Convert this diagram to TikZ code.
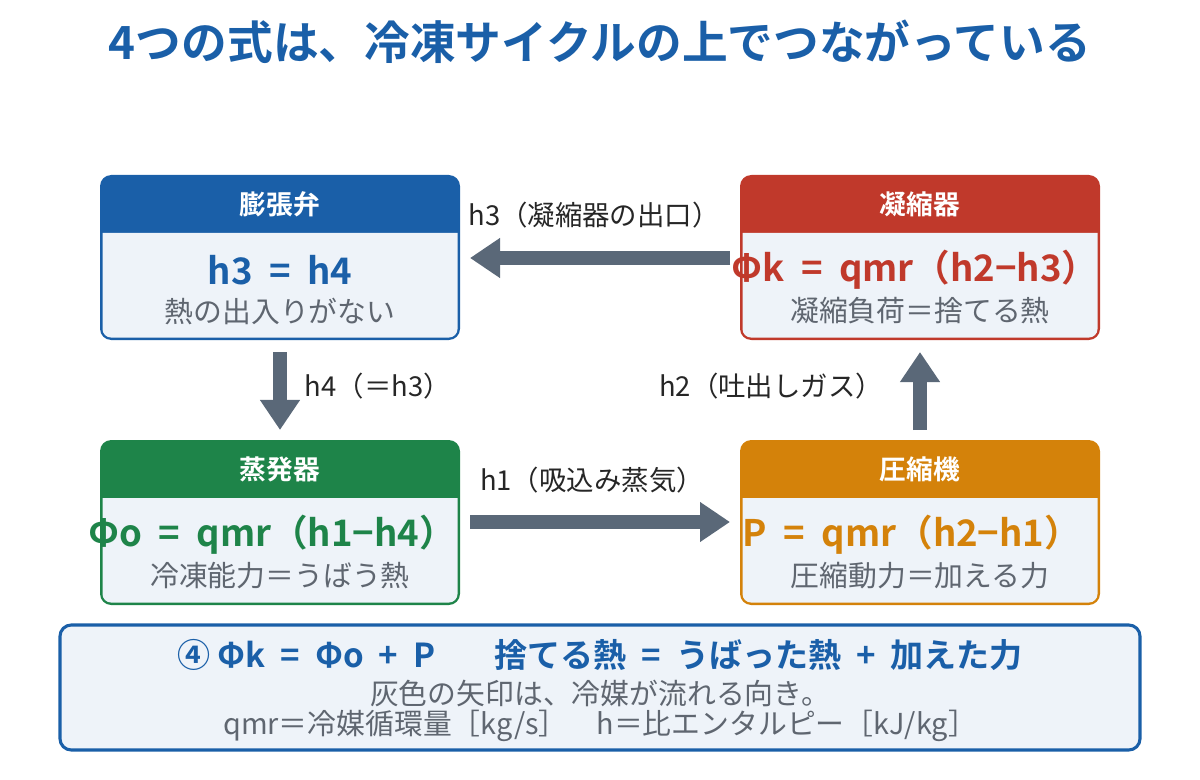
\documentclass[tikz,border=0pt]{standalone}
\usepackage{fontspec}
\setmainfont{Noto Sans CJK JP}[BoldFont={Noto Sans CJK JP Bold}]
\usetikzlibrary{arrows.meta}
\definecolor{cblue}{HTML}{1A5FA8}
\definecolor{cred}{HTML}{C0392B}
\definecolor{cgreen}{HTML}{1E8449}
\definecolor{corange}{HTML}{D4820A}
\definecolor{cbody}{HTML}{EEF3F9}
\definecolor{cgray}{HTML}{5A6878}
\definecolor{ctext}{HTML}{5F6670}
\newcommand{\eqs}[1]{\hspace{0.45em}#1\hspace{0.45em}}
\begin{document}
\begin{tikzpicture}[x=0.025cm,y=-0.025cm,
  htxt/.style={text=white,font=\bfseries\fontsize{19}{22}\selectfont},
  ftxt/.style={text=#1,font=\bfseries\fontsize{26}{30}\selectfont},
  stxt/.style={text=ctext,font=\fontsize{20.5}{24}\selectfont},
  ltxt/.style={text=black!85,font=\fontsize{19.5}{23}\selectfont},
  flow/.style={draw=cgray,line width=10pt,-{Triangle[length=0.75cm,width=0.95cm]}}]
\useasboundingbox (0,0) rectangle (1200,780);
\node (title) at (600,42) {\textcolor{cblue}{\bfseries\fontsize{32.5}{36}\selectfont 4つの式は、冷凍サイクルの上でつながっている}};
\foreach \x/\y/\c in {100/175/cblue,740/175/cred,100/440/cgreen,740/440/corange}{
  \fill[\c,rounded corners=8pt] (\x,\y) rectangle (\x+360,\y+165);
  \fill[cbody] (\x+2.5,\y+58) [rounded corners=6pt] -- (\x+2.5,\y+162.5) -- (\x+357.5,\y+162.5) [sharp corners] -- (\x+357.5,\y+58) -- cycle;
}
\node[htxt] (hA) at (280,204) {膨張弁};
\node[ftxt=cblue] (fA) at (280,270) {h3\eqs{=}h4};
\node[stxt] (sA) at (280,311) {熱の出入りがない};
\node[htxt] (hB) at (920,204) {凝縮器};
\node[ftxt=cred] (fB) at (915,270) {Φk\eqs{=}qmr（h2−h3）};
\node[stxt] (sB) at (920,311) {凝縮負荷＝捨てる熱};
\node[htxt] (hC) at (280,469) {蒸発器};
\node[ftxt=cgreen] (fC) at (272,535) {Φo\eqs{=}qmr（h1−h4）};
\node[stxt] (sC) at (280,576) {冷凍能力＝うばう熱};
\node[htxt] (hD) at (920,469) {圧縮機};
\node[ftxt=corange] (fD) at (912,535) {P\eqs{=}qmr（h2−h1）};
\node[stxt] (sD) at (920,576) {圧縮動力＝加える力};
\coordinate (a1) at (730,258); \coordinate (a2) at (470,258);
\coordinate (b1) at (280,352); \coordinate (b2) at (280,430);
\coordinate (c1) at (470,522); \coordinate (c2) at (730,522);
\coordinate (d1) at (920,430); \coordinate (d2) at (920,352);
\draw[flow] (a1) -- (a2);
\draw[flow] (b1) -- (b2);
\draw[flow] (c1) -- (c2);
\draw[flow] (d1) -- (d2);
\node[ltxt] (lA) at (594,215) {h3（凝縮器の出口）};
\node[ltxt,anchor=west] (lB) at (300,386) {h4（＝h3）};
\node[ltxt] (lC) at (592,480) {h1（吸込み蒸気）};
\node[ltxt,anchor=east] (lD) at (888,386) {h2（吐出しガス）};
\draw[draw=cblue,line width=2.2pt,fill=cbody,rounded corners=8pt] (60,625) rectangle (1140,750);
\node[text=cblue,font=\bfseries\fontsize{23.5}{27}\selectfont] (eq) at (600,655) {④ Φk\eqs{=}Φo\eqs{+}P\hspace{1.8em}捨てる熱\eqs{=}うばった熱\eqs{+}加えた力};
\node[stxt] (n1) at (600,693) {灰色の矢印は、冷媒が流れる向き。};
\node[stxt] (n2) at (600,726) {qmr＝冷媒循環量［kg/s］　h＝比エンタルピー［kJ/kg］};
\end{tikzpicture}
\end{document}
